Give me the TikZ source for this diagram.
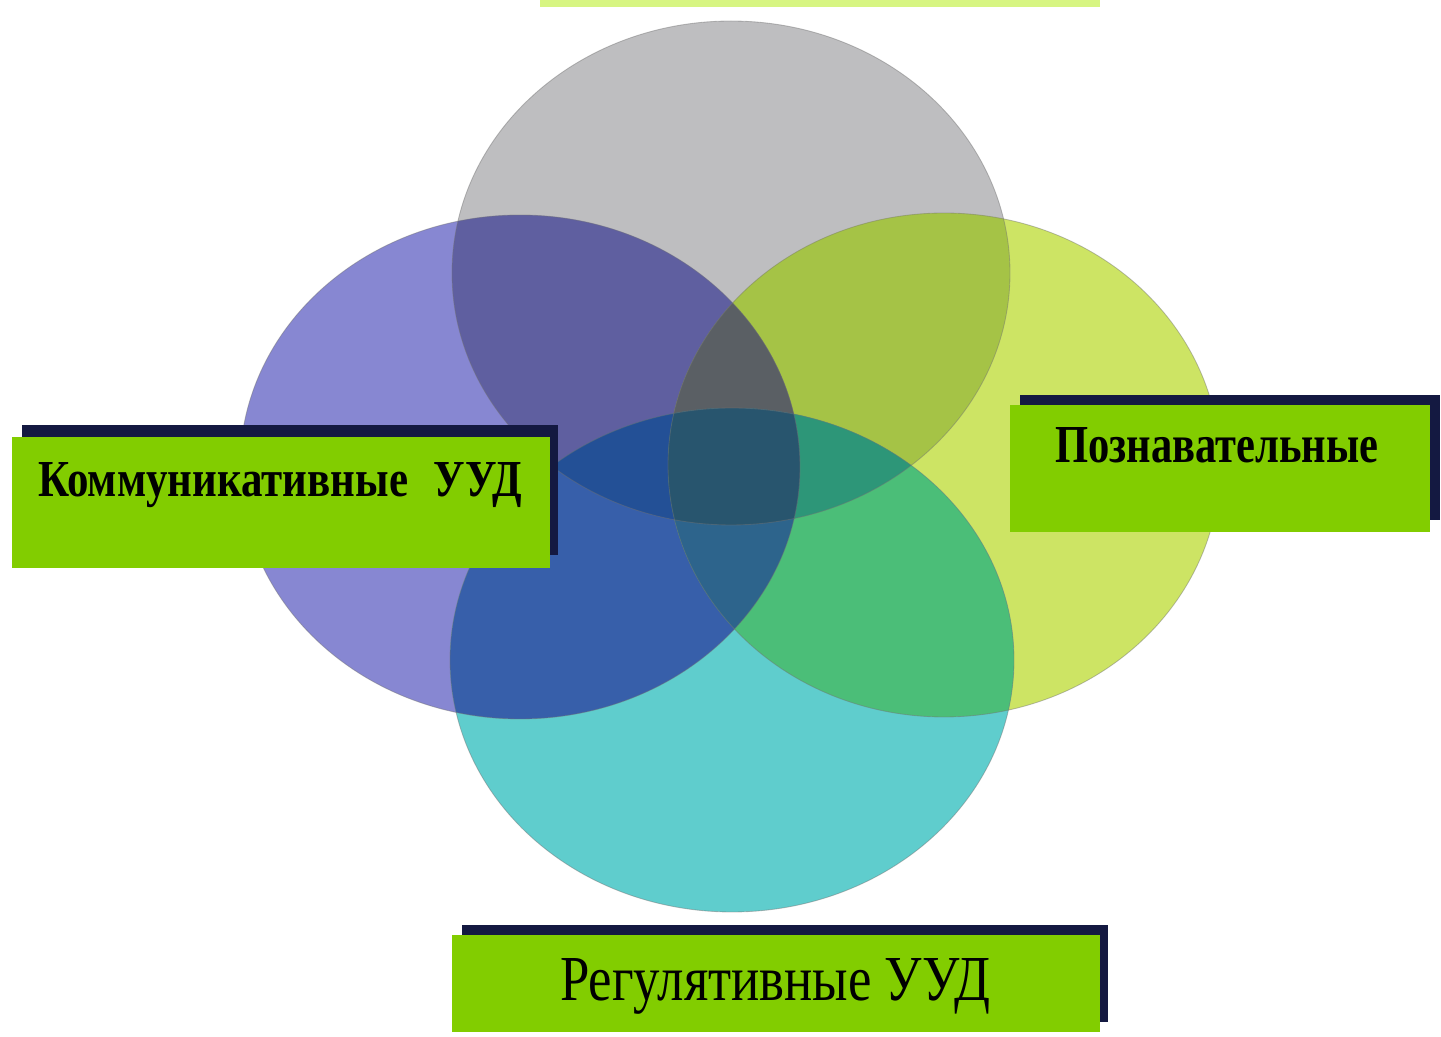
\documentclass[tikz,border=0pt]{standalone}
\usepackage{fontspec}
\setmainfont{Liberation Serif}
\usepackage{graphicx}
\definecolor{cG}{RGB}{190,190,192}
\definecolor{cP}{RGB}{135,135,210}
\definecolor{cY}{RGB}{205,228,100}
\definecolor{cT}{RGB}{95,205,205}
\definecolor{cGP}{RGB}{95,95,160}
\definecolor{cGY}{RGB}{165,195,70}
\definecolor{cGT}{RGB}{70,150,150}
\definecolor{cPY}{RGB}{100,115,120}
\definecolor{cPT}{RGB}{55,95,170}
\definecolor{cYT}{RGB}{75,190,120}
\definecolor{cGPY}{RGB}{90,95,100}
\definecolor{cGPT}{RGB}{35,80,150}
\definecolor{cGYT}{RGB}{45,150,120}
\definecolor{cPYT}{RGB}{45,100,140}
\definecolor{cGPYT}{RGB}{40,85,110}
\definecolor{boxgreen}{RGB}{130,205,0}
\definecolor{boxshadow}{RGB}{20,25,65}
\definecolor{topgreen}{RGB}{215,245,130}
\def\eG{(731,764) ellipse [x radius=13.95cm, y radius=12.6cm]}
\def\eP{(520,570) ellipse [x radius=14cm, y radius=12.6cm]}
\def\eY{(944,572) ellipse [x radius=13.8cm, y radius=12.6cm]}
\def\eT{(732,377) ellipse [x radius=14.1cm, y radius=12.6cm]}
\tikzset{
  gbox/.style={rectangle, fill=boxgreen, inner sep=0pt, anchor=south west},
  sbox/.style={rectangle, fill=boxshadow, inner sep=0pt, anchor=south west},
  lbl/.style={anchor=base west, inner sep=0pt, text=black},
  rim/.style={draw=black!55, line width=1.2pt, draw opacity=0.45}
}
\begin{document}
\begin{tikzpicture}[x=0.05cm,y=0.05cm]
\useasboundingbox (0,0) rectangle (1441,1037);
\fill[white] (0,0) rectangle (1441,1037);
% top cut-off box
\fill[topgreen] (540,1030) rectangle (1100,1040);
% singles
\fill[cG] \eG; \fill[cP] \eP; \fill[cY] \eY; \fill[cT] \eT;
% pairs
\begin{scope}\clip \eG; \fill[cGP] \eP; \end{scope}
\begin{scope}\clip \eG; \fill[cGY] \eY; \end{scope}
\begin{scope}\clip \eG; \fill[cGT] \eT; \end{scope}
\begin{scope}\clip \eP; \fill[cPY] \eY; \end{scope}
\begin{scope}\clip \eP; \fill[cPT] \eT; \end{scope}
\begin{scope}\clip \eY; \fill[cYT] \eT; \end{scope}
% triples
\begin{scope}\clip \eG; \clip \eP; \fill[cGPY] \eY; \end{scope}
\begin{scope}\clip \eG; \clip \eP; \fill[cGPT] \eT; \end{scope}
\begin{scope}\clip \eG; \clip \eY; \fill[cGYT] \eT; \end{scope}
\begin{scope}\clip \eP; \clip \eY; \fill[cPYT] \eT; \end{scope}
% quad
\begin{scope}\clip \eG; \clip \eP; \clip \eY; \fill[cGPYT] \eT; \end{scope}
% rims
\draw[rim] \eG; \draw[rim] \eP; \draw[rim] \eY; \draw[rim] \eT;
% left box
\node[sbox, minimum width=26.8cm, minimum height=6.5cm] (lshadow) at (22,482) {};
\node[gbox, minimum width=26.9cm, minimum height=6.55cm] (lbox) at (12,469) {};
\node[lbl] (ltext) at (38,540) {\resizebox{24.2cm}{1.7cm}{\bfseries Коммуникативные\hspace{0.35em} УУД}};
% right box
\node[sbox, minimum width=21cm, minimum height=6.25cm] (rshadow) at (1020,517) {};
\node[gbox, minimum width=21cm, minimum height=6.35cm] (rbox) at (1010,505) {};
\node[lbl] (rtext) at (1055,574) {\resizebox{16.15cm}{1.75cm}{\bfseries Познавательные}};
% bottom box
\node[sbox, minimum width=32.3cm, minimum height=4.85cm] (bshadow) at (462,15) {};
\node[gbox, minimum width=32.4cm, minimum height=4.85cm] (bbox) at (452,5) {};
\node[lbl] (btext) at (560,37) {\resizebox{21.5cm}{2.1cm}{Регулятивные УУД}};
\end{tikzpicture}
\end{document}
